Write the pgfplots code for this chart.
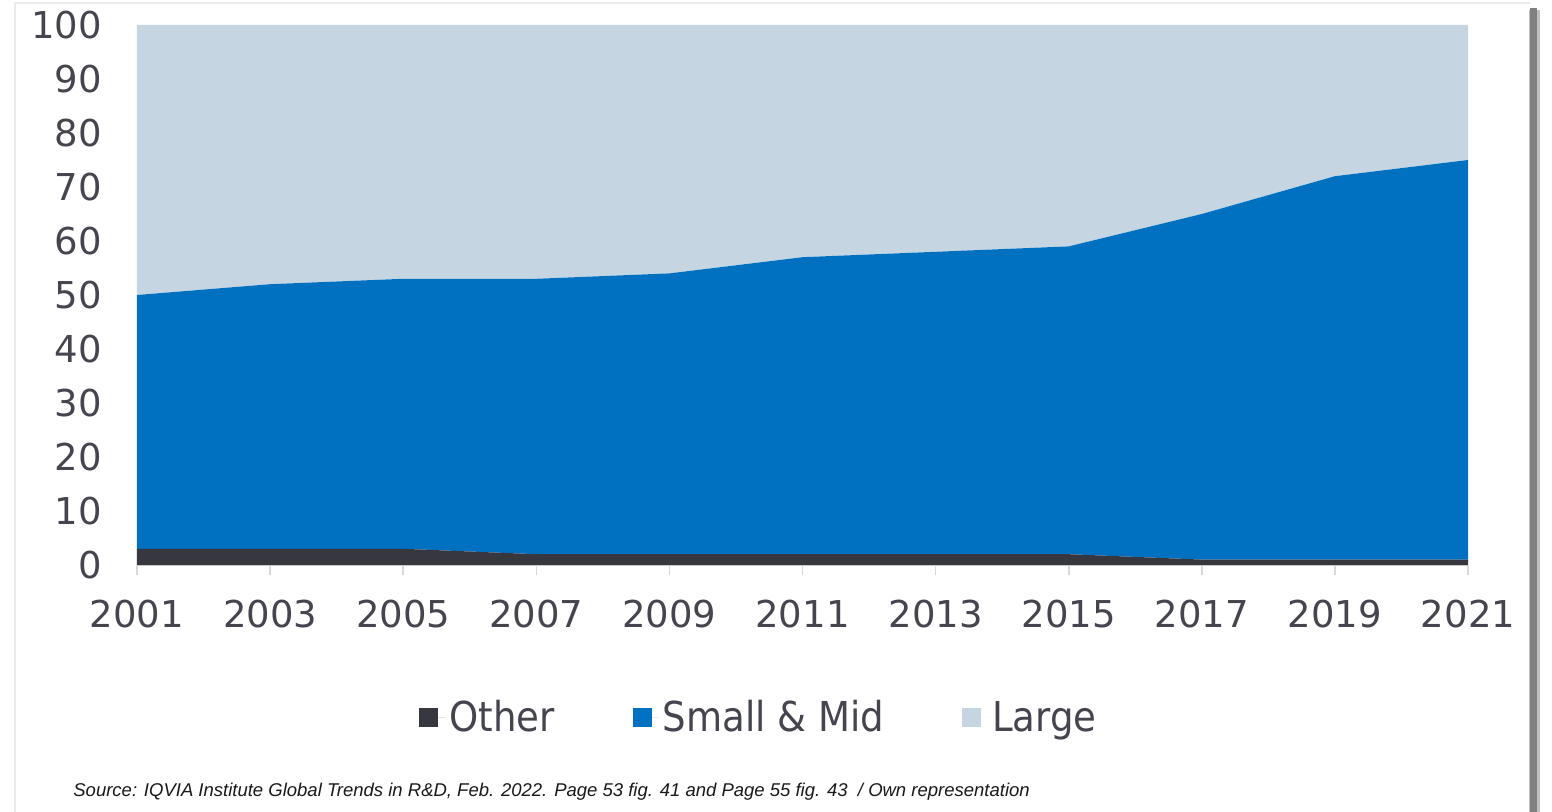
\documentclass[border=0pt]{standalone}
\usepackage{pgfplots}
\pgfplotsset{compat=1.18}
\usepackage{fontspec}
\setmainfont{DejaVu Sans}
\newfontfamily\legfont[FakeStretch=0.9]{DejaVu Sans}
\newfontfamily\srcfont{Liberation Sans}
\definecolor{cOther}{HTML}{37373F}
\definecolor{cSmall}{HTML}{0070C0}
\definecolor{cLarge}{HTML}{C5D5E2}
\definecolor{cText}{HTML}{45454F}
\definecolor{cAxis}{HTML}{C8C8C8}
\pgfplotstableread{
year other small large
2001 3 47 50
2003 3 49 48
2005 3 50 47
2007 2 51 47
2009 2 52 46
2011 2 55 43
2013 2 56 42
2015 2 57 41
2017 1 64 35
2019 1 71 28
2021 1 74 25
}\datatable
\begin{document}
\begin{tikzpicture}
\path[use as bounding box] (0,0) rectangle (776pt,406pt);
\fill[white] (0,0) rectangle (776pt,406pt);
\fill[black!25] (764.5pt,-2pt) rectangle (770pt,401pt);
\fill[black!50] (765pt,-2pt) rectangle (768.5pt,402pt);
\draw[black!8, line width=0.6pt] (7.5pt,-2pt) -- (7.5pt,404.5pt) -- (765pt,404.5pt);
\begin{axis}[
  at={(68.5pt,123.5pt)}, anchor=south west,
  scale only axis, width=665.5pt, height=270pt,
  xmin=2001, xmax=2021, ymin=0, ymax=100,
  enlargelimits=false,
  stack plots=y,
  axis lines*=left,
  y axis line style={draw=none},
  x axis line style={draw=cAxis, line width=1.2pt},
  xtick={2001,2003,...,2021},
  ytick={0,10,...,100},
  major y tick style={draw=none},
  major x tick style={draw=cAxis!70, line width=0.8pt},
  tick align=outside,
  major tick length=5pt,
  /pgf/number format/1000 sep={},
  /pgf/number format/assume math mode=true,
  tick label style={font=\fontsize{18.5}{18.5}\selectfont, text=cText},
  xticklabel style={yshift=-9pt},
  yticklabel style={xshift=-9pt},
  legend columns=3,
  legend style={at={(axis description cs:0.468,-0.283)}, anchor=center,
    draw=none, fill=none, font=\legfont\fontsize{20.6}{20.6}\selectfont, text=cText,
    /tikz/every even column/.append style={column sep=37pt},
    inner sep=0pt},
  legend image code/.code={\path (0pt,0pt) -- (13pt,0pt);\fill[#1] (0pt,-4.75pt) rectangle (9.5pt,4.75pt);},
]
\addplot[fill=cOther, draw=none] table[x=year, y=other] {\datatable} \closedcycle;
\addplot[fill=cSmall, draw=none] table[x=year, y=small] {\datatable} \closedcycle;
\addplot[fill=cLarge, draw=none] table[x=year, y=large] {\datatable} \closedcycle;
\legend{Other, Small \& Mid, Large}
\end{axis}
\node[anchor=base west, font=\srcfont\itshape\fontsize{9.25}{9.25}\selectfont, text=black!90, inner sep=0pt] at (36.5pt,7.5pt) {Source: IQVIA Institute Global Trends in R\&D, Feb. 2022. Page 53 fig. 41 and Page 55 fig. 43 \ / Own representation};
\end{tikzpicture}
\end{document}
